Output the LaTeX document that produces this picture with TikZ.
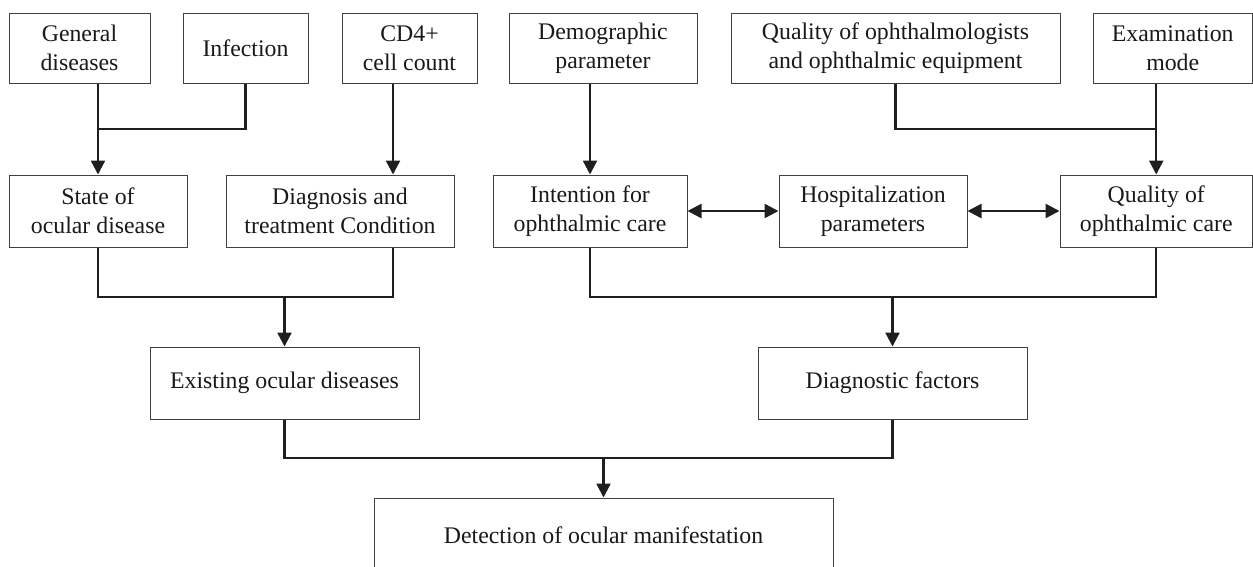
\documentclass[tikz,border=0pt]{standalone}
\usepackage{fontspec}
\setmainfont{Liberation Serif}
\usetikzlibrary{arrows.meta}
\begin{document}
\begin{tikzpicture}[x=1pt,y=-1pt,
  every node/.style={font=\fontsize{23.8}{29}\selectfont},
  box/.style={draw=black!75, line width=1pt, align=center, inner sep=0pt, text=black!90},
  conn/.style={line width=2.4pt, draw=black!88},
  arr/.style={conn, -{Triangle[length=14pt,width=14pt]}},
  darr/.style={conn, {Triangle[length=14pt,width=14pt]}-{Triangle[length=14pt,width=14pt]}}]
\useasboundingbox (0,0) rectangle (1253,566);
\clip (0,0) rectangle (1253,566);
% row 1
\node[box,minimum width=141pt,minimum height=70pt] (gen) at (79.5,48) {General\\diseases};
\node[box,minimum width=125pt,minimum height=70pt] (inf) at (245.5,48) {Infection};
\node[box,minimum width=135pt,minimum height=70pt] (cd4) at (409.5,48) {CD4+\\cell count};
\node[box,minimum width=188pt,minimum height=70pt] (dem) at (603,48) {Demographic\\parameter};
\node[box,minimum width=329pt,minimum height=70pt] (qop) at (895.5,48) {Quality of ophthalmologists\\and ophthalmic equipment};
\node[box,minimum width=159.5pt,minimum height=70pt] (exa) at (1172.75,48) {Examination\\mode};
% row 2
\node[box,minimum width=178pt,minimum height=72pt] (sta) at (98,211) {State of\\ocular disease};
\node[box,minimum width=228pt,minimum height=72pt] (dia) at (340,211) {Diagnosis and\\treatment Condition};
\node[box,minimum width=194pt,minimum height=72pt] (int) at (590,211) {Intention for\\ophthalmic care};
\node[box,minimum width=188pt,minimum height=72pt] (hos) at (873,211) {Hospitalization\\parameters};
\node[box,minimum width=192.5pt,minimum height=72pt] (qua) at (1156.25,211) {Quality of\\ophthalmic care};
% row 3
\node[box,minimum width=269pt,minimum height=72pt] (exi) at (284.5,383) {Existing ocular diseases};
\node[box,minimum width=269pt,minimum height=72pt] (dfa) at (892.5,383) {Diagnostic factors};
% row 4
\node[box,minimum width=459pt,minimum height=74pt] (det) at (603.5,535) {Detection of ocular manifestation};
% junctions
\coordinate (j1) at (98,129);
\coordinate (j2) at (1156.25,129);
\coordinate (xcd) at (393,0);
\coordinate (m1) at (284.5,297);
\coordinate (m2) at (892.5,297);
\coordinate (m3) at (603.5,458);
% connectors
\draw[conn] (inf.south) |- (j1);
\draw[arr] (gen.south -| sta.north) -- (sta.north);
\draw[arr] (cd4.south -| xcd) -- (dia.north -| xcd);
\draw[arr] (dem.south -| int.north) -- (int.north);
\draw[conn] (qop.south) |- (j2);
\draw[arr] (exa.south -| qua.north) -- (qua.north);
\draw[darr] (int.east) -- (hos.west);
\draw[darr] (hos.east) -- (qua.west);
\draw[conn] (sta.south) |- (m1 -| xcd) -- (dia.south -| xcd);
\draw[arr] (m1) -- (exi.north);
\draw[conn] (int.south) |- (m2 -| qua.south) -- (qua.south);
\draw[arr] (m2) -- (dfa.north);
\draw[conn] (exi.south) |- (m3 -| dfa.south) -- (dfa.south);
\draw[arr] (m3) -- (det.north);
\end{tikzpicture}
\end{document}
